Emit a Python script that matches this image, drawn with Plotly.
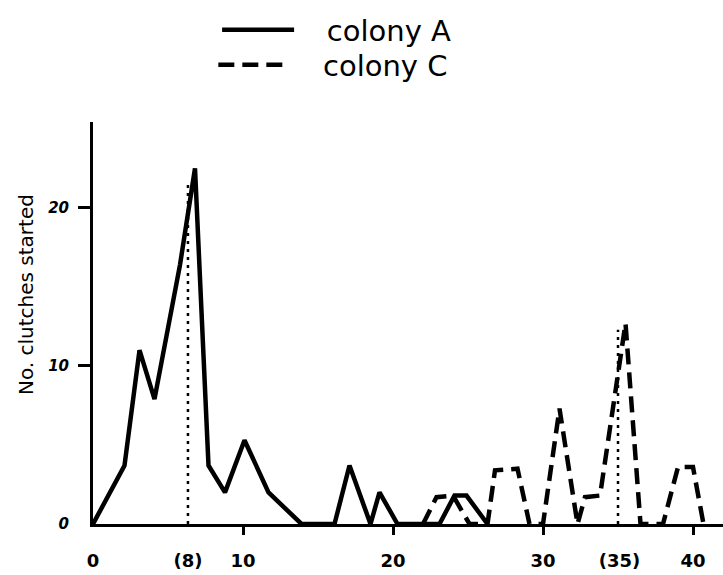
import plotly.graph_objects as go

# ---- data ----
colony_a_x = [0, 2.1, 3.1, 4.1, 5.8, 6.8, 7.7, 8.8, 10.1, 11.7, 13.9, 16.1, 17.1, 18.5, 19.1, 20.3, 23.1, 24.1, 24.9, 26.3]
colony_a_y = [0, 3.7, 11.0, 7.9, 16.4, 22.5, 3.7, 2.0, 5.3, 2.0, 0, 0, 3.7, 0, 2.0, 0, 0, 1.8, 1.8, 0]

colony_c_x = [22.0, 22.9, 24.0, 25.1, 26.3, 26.8, 28.3, 29.1, 30.0, 31.1, 32.3, 32.8, 33.8, 35.5, 36.5, 38.0, 39.0, 40.0, 40.7]
colony_c_y = [0, 1.7, 1.8, 0, 0, 3.4, 3.5, 0, 0, 7.3, 0, 1.7, 1.8, 12.7, 0, 0, 3.6, 3.6, 0]

median_a_x = 6.33
median_a_top = 21.5
median_c_x = 35.0
median_c_top = 12.3

x_tick_vals = [0, median_a_x, 10, 20, 30, 35.1, 40]
x_tick_text = ["0", "(8)", "10", "20", "30", "(35)", "40"]
x_tick_marks = [10, 20, 30, 40]
y_tick_vals = [0, 10, 20]
y_tick_text = ["0", "10", "20"]

FONT = "DejaVu Sans"
PAD = "\u00a0\u00a0\u00a0"

fig = go.Figure()
fig.add_trace(go.Scatter(
    x=colony_a_x, y=colony_a_y, mode="lines", name=PAD + "colony A",
    line=dict(color="black", width=4.5), legend="legend"))
fig.add_trace(go.Scatter(
    x=colony_c_x, y=colony_c_y, mode="lines", name=PAD + "colony C",
    line=dict(color="black", width=4.5, dash="16px,8px"), legend="legend2"))
fig.add_trace(go.Scatter(
    x=[median_a_x, median_a_x], y=[0, median_a_top], mode="lines", showlegend=False,
    line=dict(color="black", width=2.5, dash="3px,5px")))
fig.add_trace(go.Scatter(
    x=[median_c_x, median_c_x], y=[0, median_c_top], mode="lines", showlegend=False,
    line=dict(color="black", width=2.5, dash="3px,5px")))

legend_style = dict(xanchor="left", yanchor="middle",
                    font=dict(family=FONT, size=29, color="black"),
                    itemwidth=72, bgcolor="rgba(0,0,0,0)")

fig.update_layout(
    width=723, height=575,
    margin=dict(l=93, r=0, t=122, b=51),
    paper_bgcolor="white", plot_bgcolor="white",
    showlegend=True,
    legend=dict(x=0.197, y=1.229, **legend_style),
    legend2=dict(x=0.191, y=1.142, **legend_style),
    annotations=[dict(text="No. clutches started", textangle=-90,
                      x=-0.106, y=0.57, xref="paper", yref="paper",
                      xanchor="center", yanchor="middle",
                      showarrow=False,
                      font=dict(family=FONT, size=20, color="black"))],
)
fig.update_xaxes(range=[0, 42], showgrid=False, zeroline=False,
                 showline=True, linecolor="black", linewidth=3,
                 tickvals=x_tick_vals, ticktext=x_tick_text, ticks="",
                 ticklabelstandoff=18,
                 tickfont=dict(family=FONT, size=18, color="black", weight="bold"),
                 minor=dict(tickvals=x_tick_marks, ticks="outside", ticklen=8,
                            tickwidth=2.5, tickcolor="black"))
fig.update_yaxes(range=[0, 25.44], showgrid=False, zeroline=False,
                 showline=True, linecolor="black", linewidth=3,
                 tickvals=y_tick_vals, ticktext=y_tick_text, ticks="",
                 ticklabelstandoff=18,
                 tickfont=dict(family=FONT, size=15, color="black", weight="bold", style="italic"),
                 minor=dict(tickvals=[10, 20], ticks="outside", ticklen=12,
                            tickwidth=2.5, tickcolor="black"))

fig.write_html("out.html", config={"displayModeBar": False},
               post_script="document.body.style.margin='0';document.body.style.overflow='hidden';")
